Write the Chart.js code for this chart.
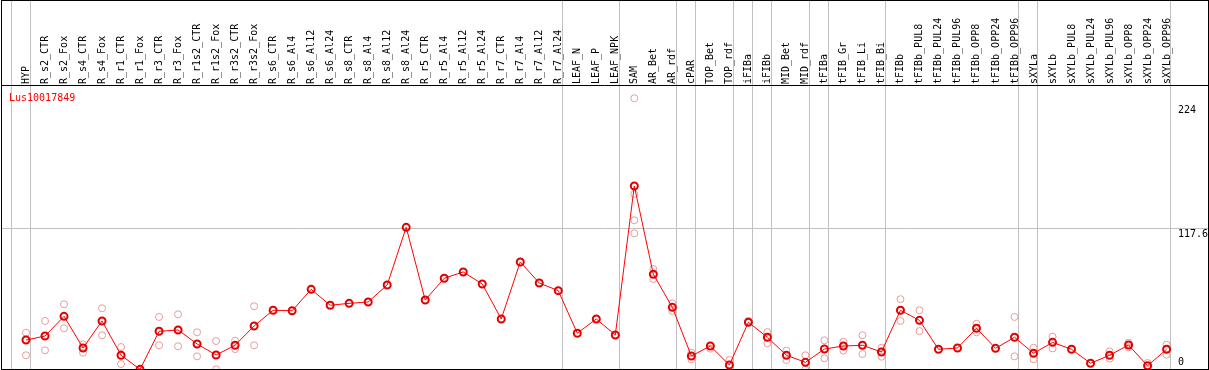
<!DOCTYPE html>
<html>
<head>
<meta charset="utf-8">
<script src="https://cdn.jsdelivr.net/npm/chart.js@4"></script>
<style>
  body { margin: 0; background: #fff; }
  #wrap { position: relative; width: 1209px; height: 370px; }
</style>
</head>
<body>
<div id="wrap"><canvas id="chart"></canvas></div>
<script>
const categories = [
  'HYP', 'R_s2_CTR', 'R_s2_Fox', 'R_s4_CTR', 'R_s4_Fox', 'R_r1_CTR', 'R_r1_Fox',
  'R_r3_CTR', 'R_r3_Fox', 'R_r1s2_CTR', 'R_r1s2_Fox', 'R_r3s2_CTR', 'R_r3s2_Fox',
  'R_s6_CTR', 'R_s6_Al4', 'R_s6_Al12', 'R_s6_Al24', 'R_s8_CTR', 'R_s8_Al4', 'R_s8_Al12',
  'R_s8_Al24', 'R_r5_CTR', 'R_r5_Al4', 'R_r5_Al12', 'R_r5_Al24', 'R_r7_CTR', 'R_r7_Al4',
  'R_r7_Al12', 'R_r7_Al24', 'LEAF_N', 'LEAF_P', 'LEAF_NPK', 'SAM', 'AR_Bet', 'AR_rdf',
  'cPAR', 'TOP_Bet', 'TOP_rdf', 'iFIBa', 'iFIBb', 'MID_Bet', 'MID_rdf', 'tFIBa',
  'tFIB_Gr', 'tFIB_Li', 'tFIB_Bi', 'tFIBb', 'tFIBb_PUL8', 'tFIBb_PUL24', 'tFIBb_PUL96',
  'tFIBb_OPP8', 'tFIBb_OPP24', 'tFIBb_OPP96', 'sXYLa', 'sXYLb', 'sXYLb_PUL8',
  'sXYLb_PUL24', 'sXYLb_PUL96', 'sXYLb_OPP8', 'sXYLb_OPP24', 'sXYLb_OPP96'
];

// mean expression per sample
const means = [
  25.7, 29.0, 45.2, 19.2, 41.4, 13.2, 1.6, 32.9, 34.0, 22.5, 13.4, 21.4, 37.3,
  50.2, 49.8, 67.4, 54.3, 55.9, 57.0, 71.0, 118.4, 58.6, 76.5, 81.7, 71.8, 43.0,
  89.9, 72.6, 66.3, 31.3, 43.0, 29.9, 152.4, 79.8, 52.6, 12.6, 20.8, 5.2, 40.3,
  28.0, 13.2, 7.4, 18.3, 20.8, 21.4, 15.9, 50.2, 41.9, 18.1, 19.2, 35.4, 18.9,
  28.0, 14.8, 23.8, 18.1, 6.6, 13.2, 21.6, 4.6, 18.1
];

// single replicates per sample (only those visible)
const replicates = [
  [31.7, 13.2], [41.4, 17.3], [55.1, 35.4], [22.2, 15.3], [51.8, 29.6], [20.0, 6.0],
  [], [44.7, 21.4], [46.9, 20.6], [32.1, 12.3], [24.9, 1.6], [25.2, 18.3], [53.5, 21.4],
  [], [], [], [], [], [], [], [], [], [], [], [], [], [], [], [], [], [], [],
  [224.5, 145.8, 124.2, 113.5], [84.1, 75.9], [55.9, 49.6], [15.3, 9.9], [18.6], [9.3],
  [41.4], [32.3, 23.0], [17.0, 9.3], [13.2, 1.6], [25.5, 10.7], [24.3, 17.0], [29.6, 14.2],
  [19.4, 12.0], [59.3, 41.4], [50.2, 33.1], [], [], [39.1, 32.1], [], [44.7, 12.3],
  [19.4, 9.9], [28.5, 18.9], [], [], [16.4, 10.4], [23.5, 19.7], [6.8], [21.9, 13.7]
];

// last sample index of each group (vertical separators)
const groupEnds = [-1, 0, 28, 31, 34, 35, 37, 38, 39, 41, 42, 45, 52, 53, 60];
const yTickLabels = [0, 117.6, 224];
const yTop = 235.2;
const geneName = 'Lus10017849';

const overlay = {
  id: 'overlay',
  afterDraw(chart) {
    const ctx = chart.ctx;
    const xs = chart.scales.x;
    const ys = chart.scales.y;
    ctx.save();
    ctx.font = '10px "DejaVu Sans Mono"';
    ctx.fillStyle = '#000';

    // sample names, rotated
    ctx.textAlign = 'left';
    ctx.textBaseline = 'middle';
    categories.forEach((c, i) => {
      ctx.save();
      ctx.translate(Math.round(xs.getPixelForValue(i)) + 0.5, 84);
      ctx.rotate(-Math.PI / 2);
      ctx.fillText(c, 0, 0);
      ctx.restore();
    });

    // y values on the right
    const offs = [-6, 8.5, 14];
    ctx.textBaseline = 'alphabetic';
    yTickLabels.forEach((v, k) => {
      ctx.fillText(String(v), 1178, ys.getPixelForValue(v) + offs[k]);
    });

    ctx.fillStyle = '#ff0000';
    ctx.fillText(geneName, 9, 101);

    ctx.strokeStyle = '#000';
    ctx.lineWidth = 1;
    ctx.strokeRect(1.5, 0.5, 1207, 369);
    ctx.restore();
  }
};

new Chart(document.getElementById('chart'), {
  type: 'scatter',
  data: {
    datasets: [
      {
        type: 'line',
        data: means.map((v, i) => ({ x: i, y: v })),
        borderColor: '#ff0000',
        borderWidth: 1,
        pointRadius: 3.5,
        pointBorderColor: '#e00000',
        pointBorderWidth: 2,
        pointBackgroundColor: 'rgba(0,0,0,0)',
        tension: 0,
        order: 0
      },
      {
        type: 'scatter',
        data: replicates.flatMap((r, i) => r.map(v => ({ x: i, y: v }))),
        pointRadius: 3.5,
        pointBorderColor: '#e89b9b',
        pointBorderWidth: 1,
        pointBackgroundColor: 'rgba(0,0,0,0)',
        order: 1
      }
    ]
  },
  options: {
    responsive: true,
    maintainAspectRatio: false,
    animation: false,
    layout: { padding: { left: 1, right: 1, top: 0, bottom: 1 }, autoPadding: false },
    plugins: { legend: { display: false }, tooltip: { enabled: false } },
    scales: {
      x: {
        type: 'linear',
        min: -1.315,
        max: 62.178,
        afterBuildTicks: (scale) => {
          scale.ticks = groupEnds.map(g => ({ value: g + 0.23 }));
        },
        ticks: { display: false },
        grid: { color: '#c0c0c0', drawTicks: false },
        border: { display: false }
      },
      y: {
        min: 1.9,
        max: 305.3,
        afterBuildTicks: (scale) => {
          scale.ticks = [{ value: 117.6 }, { value: yTop }];
        },
        ticks: { display: false },
        grid: {
          drawTicks: false,
          color: (c) => c.tick && c.tick.value === yTop ? '#000' : '#c0c0c0'
        },
        border: { display: false }
      }
    }
  },
  plugins: [overlay]
});
</script>
</body>
</html>
